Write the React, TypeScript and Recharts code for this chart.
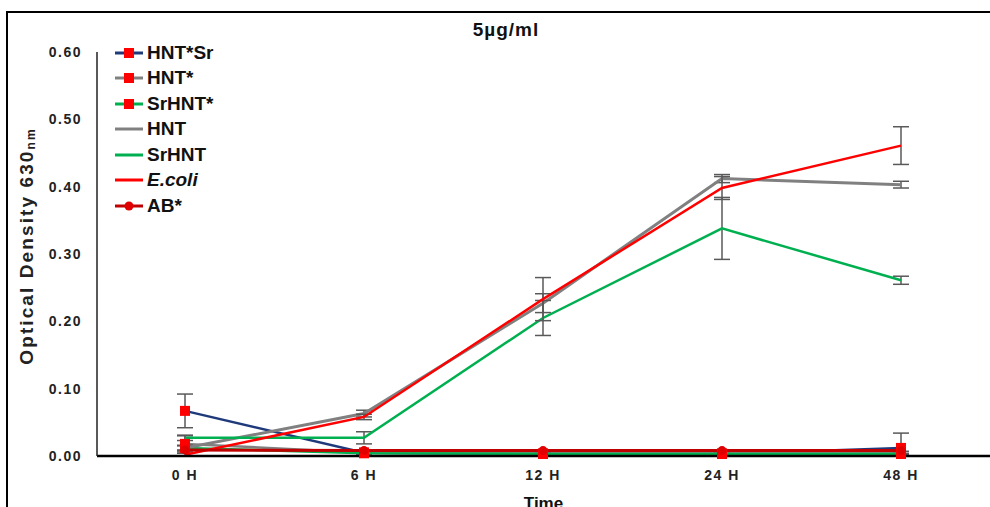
import React from 'react'
import { ErrorBar, Line, LineChart, XAxis, YAxis } from 'recharts'

const categories = ['0 H', '6 H', '12 H', '24 H', '48 H']
const yTicks = [0, 0.1, 0.2, 0.3, 0.4, 0.5, 0.6]

// error values: single number = symmetric, [low, high] = clipped at zero
const hntSr = [0.067, 0.005, 0.003, 0.003, 0.012]
const hntSrErr: (number | number[])[] = [0.025, 0.002, 0.001, 0.001, [0.012, 0.022]]
const hntStar = [0.018, 0.005, 0.004, 0.004, 0.005]
const hntStarErr = [0.012, 0.002, 0.001, 0.001, 0.002]
const srHntStar = [0.012, 0.004, 0.003, 0.003, 0.003]
const srHntStarErr = [0.004, 0.001, 0.001, 0.001, 0.001]
const hnt = [0.012, 0.063, 0.227, 0.412, 0.403]
const hntErr = [0.003, 0.005, 0.014, 0.006, 0.005]
const srHnt = [0.027, 0.027, 0.205, 0.338, 0.261]
const srHntErr = [0.004, 0.009, 0.026, 0.046, 0.006]
const ecoli = [0.002, 0.058, 0.233, 0.398, 0.461]
const ecoliErr = [0.002, 0.004, 0.032, 0.017, 0.028]
const ab = [0.009, 0.008, 0.008, 0.008, 0.008]

const data = categories.map((name, i) => ({
  name,
  hntSr: hntSr[i], hntSrErr: hntSrErr[i],
  hntStar: hntStar[i], hntStarErr: hntStarErr[i],
  srHntStar: srHntStar[i], srHntStarErr: srHntStarErr[i],
  hnt: hnt[i], hntErr: hntErr[i],
  srHnt: srHnt[i], srHntErr: srHntErr[i],
  ecoli: ecoli[i], ecoliErr: ecoliErr[i],
  ab: ab[i]
}))

const NAVY = '#1f3a7a'
const GRAY = '#808080'
const GREEN = '#00b050'
const RED = '#ff0000'
const DARKRED = '#c00000'
const ERR = '#595959'

const square = (props: any) => {
  const { cx, cy, index } = props
  if (cx == null || cy == null) return <g key={index} />
  return <rect key={index} x={cx - 5} y={cy - 5} width={10} height={10} fill={RED} />
}

const circle = (props: any) => {
  const { cx, cy, index } = props
  if (cx == null || cy == null) return <g key={index} />
  return <circle key={index} cx={cx} cy={cy} r={4.5} fill="#e00000" />
}

const legendItems = [
  { label: 'HNT*Sr', color: NAVY, marker: 'square' },
  { label: 'HNT*', color: GRAY, marker: 'square' },
  { label: 'SrHNT*', color: GREEN, marker: 'square' },
  { label: 'HNT', color: GRAY, marker: 'none' },
  { label: 'SrHNT', color: GREEN, marker: 'none' },
  { label: 'E.coli', color: RED, marker: 'none', italic: true },
  { label: 'AB*', color: DARKRED, marker: 'circle' }
]

const YLabel = (props: any) => {
  const vb = props.viewBox || { x: 0, y: 0, width: 0, height: 0 }
  const x = vb.x + 26
  const y = vb.y + vb.height / 2 - 8
  return (
    <text
      x={x}
      y={y}
      transform={`rotate(-90 ${x} ${y})`}
      textAnchor="middle"
      dominantBaseline="central"
      fontSize={19}
      fontWeight="bold"
      letterSpacing={2.1}
      fill="#222"
    >
      Optical Density 630<tspan fontSize={12} dy={5}>nm</tspan>
    </text>
  )
}

export default function App() {
  return (
    <div
      style={{
        position: 'absolute',
        left: 0,
        top: 0,
        width: 990,
        height: 507,
        overflow: 'hidden',
        background: '#fff',
        fontFamily: '"Liberation Sans", Arial, sans-serif'
      }}
    >
      <div
        style={{
          position: 'absolute',
          left: 6,
          top: 11,
          width: 1100,
          height: 600,
          border: '2px solid #000'
        }}
      />
      <div
        style={{
          position: 'absolute',
          left: 406,
          top: 19,
          width: 200,
          textAlign: 'center',
          fontSize: 19,
          fontWeight: 'bold',
          letterSpacing: 1,
          color: '#111'
        }}
      >
        5µg/ml
      </div>

      <LineChart
        width={990}
        height={540}
        data={data}
        margin={{ top: 52, right: 0, bottom: 34, left: 0 }}
        style={{ position: 'absolute', left: 0, top: 0 }}
      >
        <XAxis
          dataKey="name"
          padding={{ left: 88, right: 89 }}
          tickLine={false}
          axisLine={{ stroke: '#000', strokeWidth: 2.5 }}
          tickMargin={8}
          height={50}
          tick={{ fill: '#222', fontSize: 14, fontWeight: 'bold', letterSpacing: 1.5 }}
          label={{ value: 'Time', position: 'insideBottom', offset: -3, fill: '#111', fontSize: 17, fontWeight: 'bold' }}
        />
        <YAxis
          width={97}
          domain={[0, 0.6]}
          ticks={yTicks}
          tickFormatter={(v: number) => v.toFixed(2)}
          tickLine={false}
          axisLine={{ stroke: '#222', strokeWidth: 1.5 }}
          tickMargin={9}
          tick={{ fill: '#222', fontSize: 14, fontWeight: 'bold', letterSpacing: 1.5 }}
          label={{ content: YLabel }}
        />

        <Line dataKey="hntSr" stroke={NAVY} strokeWidth={2.5} dot={square} activeDot={false} isAnimationActive={false}>
          <ErrorBar dataKey="hntSrErr" width={8} stroke={ERR} strokeWidth={1.5} direction="y" />
        </Line>
        <Line dataKey="hntStar" stroke={GRAY} strokeWidth={2.5} dot={square} activeDot={false} isAnimationActive={false}>
          <ErrorBar dataKey="hntStarErr" width={8} stroke={ERR} strokeWidth={1.5} direction="y" />
        </Line>
        <Line dataKey="srHntStar" stroke={GREEN} strokeWidth={2.5} dot={square} activeDot={false} isAnimationActive={false}>
          <ErrorBar dataKey="srHntStarErr" width={8} stroke={ERR} strokeWidth={1.5} direction="y" />
        </Line>
        <Line dataKey="hnt" stroke={GRAY} strokeWidth={3} dot={false} activeDot={false} isAnimationActive={false}>
          <ErrorBar dataKey="hntErr" width={8} stroke={ERR} strokeWidth={1.5} direction="y" />
        </Line>
        <Line dataKey="srHnt" stroke={GREEN} strokeWidth={2.5} dot={false} activeDot={false} isAnimationActive={false}>
          <ErrorBar dataKey="srHntErr" width={8} stroke={ERR} strokeWidth={1.5} direction="y" />
        </Line>
        <Line dataKey="ecoli" stroke={RED} strokeWidth={2.5} dot={false} activeDot={false} isAnimationActive={false}>
          <ErrorBar dataKey="ecoliErr" width={8} stroke={ERR} strokeWidth={1.5} direction="y" />
        </Line>
        <Line dataKey="ab" stroke={DARKRED} strokeWidth={3} dot={circle} activeDot={false} isAnimationActive={false} />
      </LineChart>

      <div style={{ position: 'absolute', left: 114, top: 40 }}>
        {legendItems.map((item) => (
          <div key={item.label} style={{ display: 'flex', alignItems: 'center', height: 25.5 }}>
            <svg width={30} height={14} style={{ marginRight: 3 }}>
              <line x1={1} y1={7} x2={29} y2={7} stroke={item.color} strokeWidth={3} />
              {item.marker === 'square' && <rect x={10} y={2} width={10} height={10} fill={RED} />}
              {item.marker === 'circle' && <circle cx={15} cy={7} r={4.5} fill="#e00000" />}
            </svg>
            <span
              style={{
                fontSize: 19,
                fontWeight: 'bold',
                fontStyle: item.italic ? 'italic' : 'normal',
                color: '#111',
                lineHeight: '20px'
              }}
            >
              {item.label}
            </span>
          </div>
        ))}
      </div>
    </div>
  )
}
